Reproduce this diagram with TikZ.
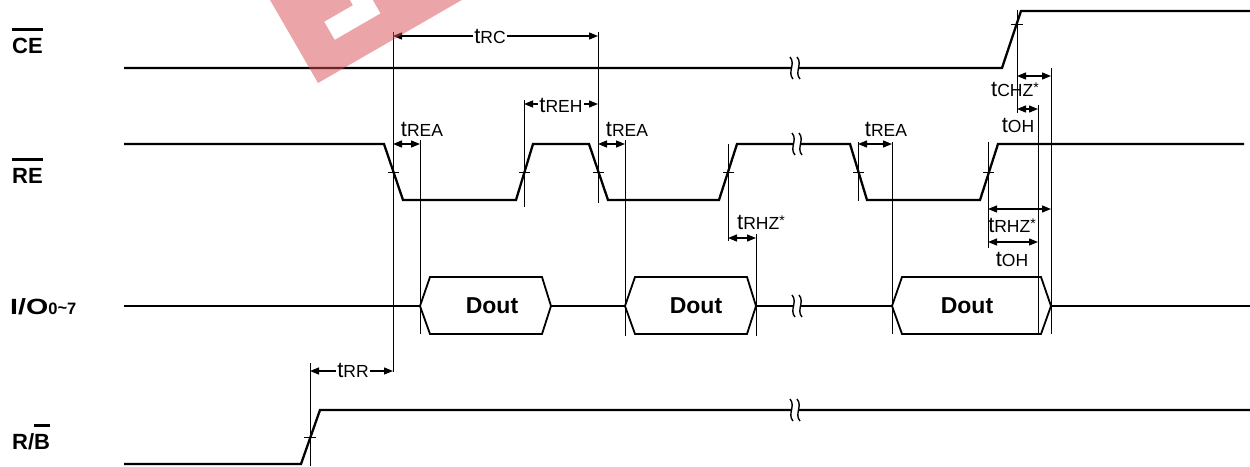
\documentclass[tikz,border=0pt]{standalone}
\usepackage{fontspec}
\setmainfont{Liberation Sans}
\usetikzlibrary{arrows.meta}
\newcommand\tlab[1]{{\fontsize{22}{22}\selectfont t}{\fontsize{17.5}{17.5}\selectfont #1}}
\newcommand\ovbar[1]{\vbox{\hrule height 2.6pt\kern 7pt\hbox{#1}}}
\newcommand\astx{\raisebox{3.5pt}{\fontsize{14}{14}\selectfont *}}
\definecolor{wm}{RGB}{217,76,82}
\tikzset{
  sig/.style={line width=2.3pt, line join=miter},
  hexa/.style={line width=1.8pt, line join=miter},
  vline/.style={line width=1pt},
  dimarrow/.style={line width=1.3pt, {Triangle[length=9pt,width=7pt]}-{Triangle[length=9pt,width=7pt]}},
  siglab/.style={anchor=base west, inner sep=0pt, font=\fontsize{22}{22}\selectfont\bfseries},
  tl/.style={inner sep=0.5pt},
  tlw/.style={inner sep=1pt, fill=white},
  dout/.style={inner sep=0pt, font=\fontsize{23}{23}\selectfont\bfseries},
  brk/.pic={
    \fill[white] (-3,-9) rectangle (3,9);
    \draw[line width=1.4pt] (-5,-11) .. controls (1,-4) and (-8,4) .. (-2,11);
    \draw[line width=1.4pt] (2,-11) .. controls (8,-4) and (-1,4) .. (5,11);
  }
}
\begin{document}
\begin{tikzpicture}[x=1pt,y=-1pt]
\useasboundingbox[fill=white] (0,0) rectangle (1250,466);

% signal labels
\node[siglab] (lce) at (12,53) {\ovbar{CE}};
\node[siglab] (lre) at (12,183) {\ovbar{RE}};
\node[siglab] (lio) at (10,314) {\scalebox{1.3}[1]{I/O}{\fontsize{16.5}{16.5}\selectfont 0\raisebox{0.5pt}{\char"007E}7}};
\node[siglab] (lrb) at (12,449) {R/\ovbar{B}};

% CE
\draw[sig] (124,68) -- (1002,68) -- (1021,11) -- (1250,11);
% RE
\draw[sig] (124,144) -- (384,144) -- (403,200) -- (516,200) -- (533,144) -- (589,144)
  -- (608,200) -- (719,200) -- (737,144) -- (850,144) -- (867,200) -- (980,200)
  -- (998,144) -- (1244,144);
% I/O
\draw[sig] (124,306) -- (420,306);
\draw[sig] (551,306) -- (625,306);
\draw[sig] (756,306) -- (892,306);
\draw[sig] (1051,306) -- (1250,306);
\draw[hexa] (420,306) -- (430,277) -- (542,277) -- (551,306) -- (542,334) -- (430,334) -- cycle;
\draw[hexa] (625,306) -- (635,277) -- (747,277) -- (756,306) -- (747,334) -- (635,334) -- cycle;
\draw[hexa] (892,306) -- (902,277) -- (1041,277) -- (1051,306) -- (1041,334) -- (902,334) -- cycle;
\node[dout] (d1) at (492,306) {Dout};
\node[dout] (d2) at (696,306) {Dout};
\node[dout] (d3) at (967,306) {Dout};
% R/B
\draw[sig] (124,464) -- (301,464) -- (320,410) -- (1250,410);

% breaks
\pic at (795,68) {brk};
\pic at (797,144) {brk};
\pic at (797,306) {brk};
\pic at (795,410) {brk};

% crossing ticks
\draw[vline] (388,172) -- (399,172);
\draw[vline] (519,172) -- (530,172);
\draw[vline] (593,172) -- (604,172);
\draw[vline] (723,172) -- (734,172);
\draw[vline] (853,172) -- (864,172);
\draw[vline] (983,172) -- (994,172);
\draw[vline] (1011,24) -- (1023,24);
\draw[vline] (304,437) -- (316,437);

% vertical reference lines
\coordinate (a1) at (393,32);   \coordinate (a2) at (393,372);
\coordinate (b1) at (598,32);   \coordinate (b2) at (598,203);
\coordinate (c1) at (524,100);  \coordinate (c2) at (524,207);
\coordinate (e1) at (420,140);  \coordinate (e2) at (420,334);
\coordinate (f1) at (625,140);  \coordinate (f2) at (625,336);
\coordinate (g1) at (728,144);  \coordinate (g2) at (728,241);
\coordinate (h1) at (756,234);  \coordinate (h2) at (756,336);
\coordinate (i1) at (858,142);  \coordinate (i2) at (858,201);
\coordinate (j1) at (892,142);  \coordinate (j2) at (892,334);
\coordinate (k1) at (988,142);  \coordinate (k2) at (988,248);
\coordinate (l1) at (1038,105); \coordinate (l2) at (1038,334);
\coordinate (m1) at (1051,68);  \coordinate (m2) at (1051,334);
\coordinate (n1) at (1017,10);  \coordinate (n2) at (1017,113);
\coordinate (p1) at (310,363);  \coordinate (p2) at (310,466);
\foreach \u/\v in {a1/a2,b1/b2,c1/c2,e1/e2,f1/f2,g1/g2,h1/h2,i1/i2,j1/j2,k1/k2,l1/l2,m1/m2,n1/n2,p1/p2}
  \draw[vline] (\u) -- (\v);

% dimension arrows
\draw[dimarrow] (a1 |- 0,36) -- (b1 |- 0,36);
\node[tlw] (trc) at (490,36) {\tlab{RC}};
\draw[dimarrow] (c1 |- 0,104) -- (b1 |- 0,104);
\node[tlw] (treh) at (561,105) {\tlab{REH}};
\draw[dimarrow] (a1 |- 0,144) -- (e1 |- 0,144);
\node[tl] (trea1) at (422,129) {\tlab{REA}};
\draw[dimarrow] (b1 |- 0,144) -- (f1 |- 0,144);
\node[tl] (trea2) at (627,129) {\tlab{REA}};
\draw[dimarrow] (i1 |- 0,144) -- (j1 |- 0,144);
\node[tl] (trea3) at (886,129) {\tlab{REA}};
\draw[dimarrow] (g1 |- 0,238) -- (h1 |- 0,238);
\node[tl] (trhz1) at (761,222) {\tlab{RHZ\astx}};
\draw[dimarrow] (n1 |- 0,76) -- (m1 |- 0,76);
\node[tl] (tchz) at (1015,89) {\tlab{CHZ\astx}};
\draw[dimarrow] (n1 |- 0,109) -- (l1 |- 0,109);
\node[tl] (toh1) at (1018,125) {\tlab{OH}};
\draw[dimarrow] (k1 |- 0,209) -- (m1 |- 0,209);
\node[tl] (trhz2) at (1012,225) {\tlab{RHZ\astx}};
\draw[dimarrow] (k1 |- 0,242) -- (l1 |- 0,242);
\node[tl] (toh2) at (1012,259) {\tlab{OH}};
\draw[dimarrow] (p1 |- 0,371) -- (a2 |- 0,371);
\node[tlw] (trr) at (353,370) {\tlab{RR}};

% watermark
\begin{scope}
\clip (0,0) rectangle (1250,466);
\fill[wm, opacity=0.5, even odd rule]
  (318,83) -- (491.2,-17) -- (391.2,-190) -- (218,-90) -- cycle
  (334.7,39.9) -- (380.6,13.4) -- (345.1,-48.1) -- (327.8,-38.1) -- (352.8,5.2) -- (324.2,21.7) -- cycle;
\end{scope}
\end{tikzpicture}
\end{document}
